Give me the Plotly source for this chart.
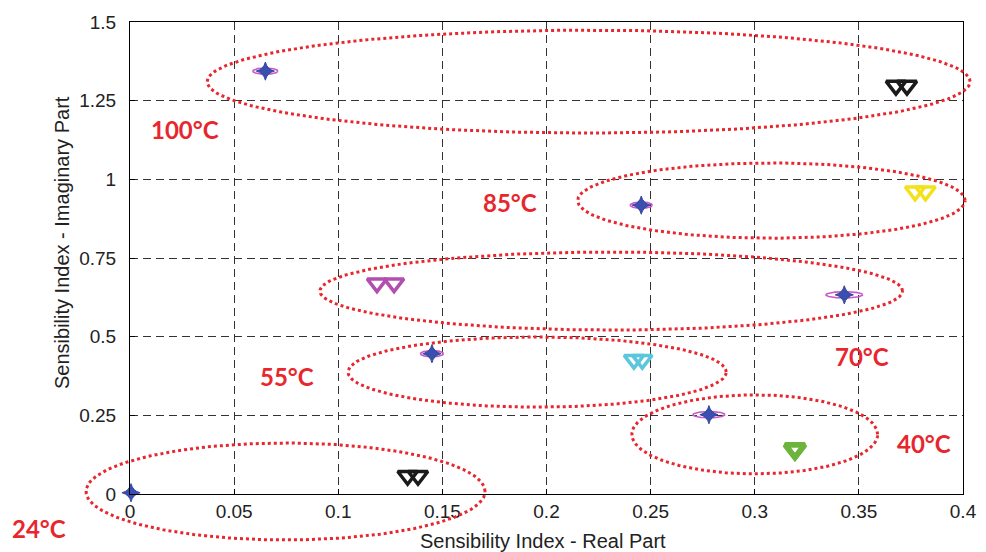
import numpy as np
import plotly.graph_objects as go

# ---------------- data ----------------
temps = ["100°C", "85°C", "70°C", "55°C", "40°C", "24°C"]

# model points (blue) and their small uncertainty ellipses (magenta)
model_x = [0.065, 0.2455, 0.343, 0.145, 0.278, 0.0005]
model_y = [1.344, 0.918, 0.633, 0.446, 0.252, 0.004]
model_rx = [0.0060, 0.0053, 0.0088, 0.0055, 0.0077, 0.0020]
model_ry = [0.010, 0.010, 0.010, 0.010, 0.010, 0.010]

# measured points (open inverted triangles, two repetitions each)
meas_x1 = [0.3678, 0.3770, 0.1186, 0.2420, 0.3193, 0.1333]
meas_x2 = [0.3731, 0.3820, 0.1268, 0.2460, 0.3193, 0.1383]
meas_y = [1.298, 0.962, 0.670, 0.427, 0.143, 0.058]
meas_colors = ["#1a1a1a", "#f2e21c", "#b24fae", "#5cc6dc", "#6cb43c", "#1a1a1a"]

# grouping ellipses (red dotted): center and semi-axes
grp_cx = [0.2202, 0.3080, 0.2311, 0.1955, 0.3000, 0.0747]
grp_cy = [1.3105, 0.9325, 0.6450, 0.3875, 0.1895, 0.0080]
grp_rx = [0.1832, 0.0930, 0.1399, 0.0908, 0.0590, 0.0958]
grp_ry = [0.1635, 0.1195, 0.1240, 0.1115, 0.1255, 0.1540]

# temperature label positions (pixels in the 986x552 window)
lab_px = [185, 510, 862, 287, 924, 39]
lab_py = [130, 202, 356, 376, 443, 528]

x_ticks = [0, 0.05, 0.1, 0.15, 0.2, 0.25, 0.3, 0.35, 0.4]
x_ticklabels = ["0", "0.05", "0.1", "0.15", "0.2", "0.25", "0.3", "0.35", "0.4"]
y_ticks = [0, 0.25, 0.5, 0.75, 1, 1.25, 1.5]
y_ticklabels = ["0", "0.25", "0.5", "0.75", "1", "1.25", "1.5"]

# ---------------- layout geometry ----------------
OFF = 8                      # page body margin
W, H = 986 - OFF, 552 - OFF
PX0, PX1 = 130 - OFF, 963 - OFF   # plot area left/right (px in figure)
PYT, PYB = 22 - OFF, 494 - OFF    # plot area top/bottom
XR = [0, 0.4]
YR = [0, 1.5]
xdom = [PX0 / W, PX1 / W]
ydom = [1 - PYB / H, 1 - PYT / H]
# full-canvas axes with identical scale (so ellipses are not clipped)
xppu = (PX1 - PX0) / (XR[1] - XR[0])
yppu = (PYB - PYT) / (YR[1] - YR[0])
x2r = [XR[0] - PX0 / xppu, XR[1] + (W - PX1) / xppu]
y2r = [YR[0] - (H - PYB) / yppu, YR[1] + PYT / yppu]


def fx(px):
    return (px - OFF) / W


def fy(py):
    return 1 - (py - OFF) / H


t = np.linspace(0, 2 * np.pi, 240)

fig = go.Figure()

# small magenta ellipses around model points
for cx, cy, rx, ry in zip(model_x, model_y, model_rx, model_ry):
    fig.add_trace(go.Scatter(
        x=cx + rx * np.cos(t), y=cy + ry * np.sin(t), mode="lines",
        line=dict(color="#c95ac9", width=1.6), hoverinfo="skip",
        showlegend=False, xaxis="x", yaxis="y"))

# blue model markers
fig.add_trace(go.Scatter(
    x=model_x, y=model_y, mode="markers",
    marker=dict(symbol="star-diamond", size=13, color="#3a4fb0",
                line=dict(color="#34479f", width=1)),
    cliponaxis=False, showlegend=False, xaxis="x", yaxis="y"))
fig.add_trace(go.Scatter(
    x=model_x, y=model_y, mode="markers",
    marker=dict(symbol="diamond", size=8, color="#3a4fb0", line=dict(width=0)),
    cliponaxis=False, showlegend=False, xaxis="x", yaxis="y"))

# measured triangles
line_w = [3.5, 3.5, 3.5, 3.5, 5.5, 3.5]
for xs in (meas_x1, meas_x2):
    fig.add_trace(go.Scatter(
        x=xs, y=meas_y, mode="markers",
        marker=dict(symbol="triangle-down-open", size=17,
                    color=meas_colors, line=dict(color=meas_colors, width=line_w)),
        cliponaxis=False, showlegend=False, xaxis="x", yaxis="y"))

# red dotted grouping ellipses (on the full-canvas overlay axes)
for cx, cy, rx, ry in zip(grp_cx, grp_cy, grp_rx, grp_ry):
    fig.add_trace(go.Scatter(
        x=cx + rx * np.cos(t), y=cy + ry * np.sin(t), mode="lines",
        line=dict(color="#e8262e", width=3, dash="dot"), hoverinfo="skip",
        showlegend=False, xaxis="x2", yaxis="y2"))

annotations = []
for txt, px, py in zip(temps, lab_px, lab_py):
    annotations.append(dict(
        text="<b>" + txt + "</b>", x=fx(px), y=fy(py), xref="paper", yref="paper",
        showarrow=False, xanchor="center", yanchor="middle",
        font=dict(family="Lato, Liberation Sans, sans-serif", size=24, color="#e8262e")))

annotations.append(dict(
    text="Sensibility Index - Real Part", x=fx(543), y=fy(541),
    xref="paper", yref="paper", showarrow=False, xanchor="center", yanchor="middle",
    font=dict(family="Liberation Sans, Arial, sans-serif", size=20, color="#222")))
annotations.append(dict(
    text="Sensibility Index - Imaginary Part", x=fx(62), y=fy(243),
    xref="paper", yref="paper", showarrow=False, xanchor="center", yanchor="middle",
    textangle=-90,
    font=dict(family="Liberation Sans, Arial, sans-serif", size=20, color="#222")))

tickfont = dict(family="Liberation Sans, Arial, sans-serif", size=19, color="#222")
axis_common = dict(showline=True, mirror=True, linecolor="black", linewidth=1,
                   showgrid=True, gridcolor="#333333", gridwidth=1, griddash="8px,5px",
                   zeroline=False, ticks="inside", ticklen=5, tickcolor="black",
                   tickfont=tickfont, automargin=False, fixedrange=True)

fig.update_layout(
    width=W, height=H,
    margin=dict(l=0, r=0, t=0, b=0),
    paper_bgcolor="white", plot_bgcolor="rgba(0,0,0,0)",
    showlegend=False,
    xaxis=dict(domain=xdom, range=XR, tickvals=x_ticks, ticktext=x_ticklabels,
               anchor="y", ticklabelstandoff=0, **axis_common),
    yaxis=dict(domain=ydom, range=YR, tickvals=y_ticks, ticktext=y_ticklabels,
               anchor="x", ticklabelstandoff=9, **axis_common),
    xaxis2=dict(domain=[0, 1], range=x2r, visible=False, anchor="y2", fixedrange=True),
    yaxis2=dict(domain=[0, 1], range=y2r, visible=False, anchor="x2", fixedrange=True),
    annotations=annotations,
)

fig.write_html("out.html")
